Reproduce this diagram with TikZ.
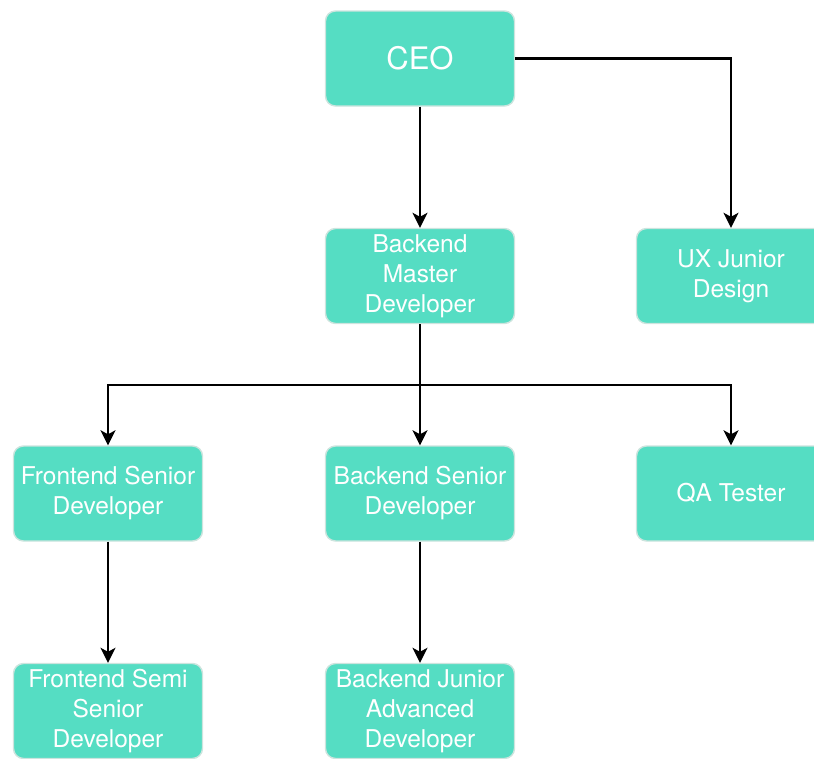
\documentclass[tikz,border=0pt]{standalone}
\usepackage{fontspec}
\setmainfont{TeX Gyre Heros}
\usetikzlibrary{arrows.meta}
\definecolor{boxfill}{HTML}{55DDC3}
\definecolor{boxedge}{HTML}{CDE4DE}
\begin{document}
\begin{tikzpicture}[x=1pt,y=-1pt,
  role/.style={draw=boxedge, line width=1.4pt, fill=boxfill, rounded corners=10pt,
    minimum width=189pt, minimum height=95pt, inner sep=0pt, text=white,
    align=center, font=\fontsize{24.5}{30}\selectfont},
  link/.style={draw=black, line width=2.4pt, -{Stealth[length=15pt,width=15pt,inset=4pt]}}]
\useasboundingbox (0,0) rectangle (814,758);
\clip (0,0) rectangle (814,758);
% top level
\node[role, font=\fontsize{31}{36}\selectfont] (ceo) at (420,58.5) {CEO};
% second level
\node[role] (bm) at (420,276) {Backend\\Master\\Developer};
\node[role] (ux) at (731,276) {UX Junior\\Design};
% third level
\node[role] (fs) at (108,493.5) {Frontend Senior\\Developer};
\node[role] (bs) at (420,493.5) {Backend Senior\\Developer};
\node[role] (qa) at (731,493.5) {QA Tester};
% fourth level
\node[role] (fss) at (108,711) {Frontend Semi\\Senior\\Developer};
\node[role] (bja) at (420,711) {Backend Junior\\Advanced\\Developer};
% connectors
\coordinate (hub) at (420,385);
\draw[link] (ceo.south) -- (bm.north);
\draw[link] (ceo.east) -| (ux.north);
\draw[link] (bm.south) -- (bs.north);
\draw[link] (hub) -| (fs.north);
\draw[link] (hub) -| (qa.north);
\draw[link] (fs.south) -- (fss.north);
\draw[link] (bs.south) -- (bja.north);
\end{tikzpicture}
\end{document}
